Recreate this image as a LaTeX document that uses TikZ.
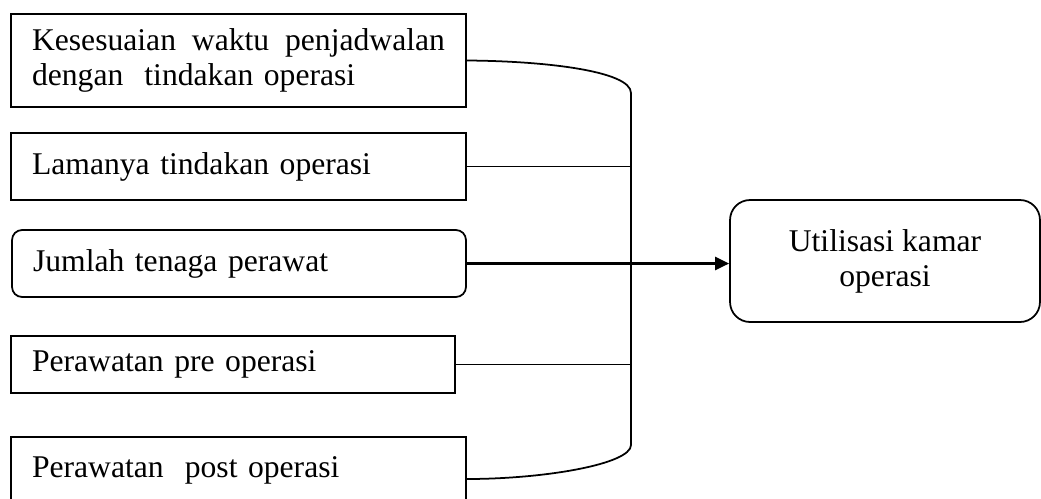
\documentclass[tikz,border=0pt]{standalone}
\usepackage{fontspec}
\setmainfont{Liberation Serif}
\usepackage{tikz}
\usetikzlibrary{arrows.meta,positioning,calc}

\begin{document}
\begin{tikzpicture}[x=0.02cm, y=-0.02cm,
    box/.style={rectangle, draw, line width=1pt, inner xsep=0.42cm, align=left,
                font=\fontsize{18}{20}\selectfont},
    rbox/.style={box, rounded corners=#1},
    conn/.style={line width=1pt}]
\useasboundingbox (0,0) rectangle (1041,498);

\node[box, text width=8.26cm, minimum height=1.86cm] (waktu) at (238.5,60.5)
    {\makebox[8.26cm][l]{Kesesuaian\hfill waktu\hfill penjadwalan}\\dengan\ \ tindakan operasi};
\node[box, text width=8.26cm, minimum height=1.34cm] (lama) at (238.5,166.5) {Lamanya tindakan operasi};
\node[rbox=0.2cm, text width=8.24cm, minimum height=1.34cm] (perawat) at (239,263.5) {Jumlah tenaga perawat};
\node[box, text width=8.04cm, minimum height=1.14cm] (pre) at (233,364.5) {Perawatan pre operasi};
\node[box, text width=8.26cm, inner ysep=0pt, text height=0.8cm, text depth=0.88cm] (post) at (238.5,479)
    {Perawatan\ \ post operasi};

\node[rbox=0.4cm, minimum width=6.2cm, minimum height=2.44cm, align=center] (util) at (885,261)
    {Utilisasi kamar\\operasi};

\coordinate (top) at (631,93);
\coordinate (bot) at (631,445);

% garis penghubung
\draw[conn] (waktu.east) .. controls (545,61) and (631,71) .. (top) -- (bot)
    .. controls (631,464) and (545,479) .. (post.east);
\draw[conn] (lama.east) -- (lama.east -| top);
\draw[conn] (pre.east) -- (pre.east -| top);
\draw[-{Triangle[length=0.28cm,width=0.26cm]}, line width=1.4pt] (perawat.east) -- (perawat.east -| util.west);
\end{tikzpicture}
\end{document}
